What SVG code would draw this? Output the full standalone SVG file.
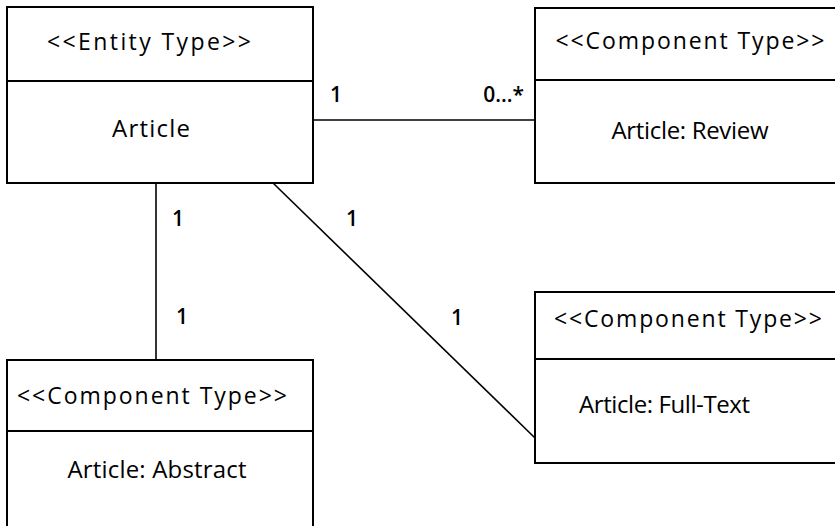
<svg xmlns="http://www.w3.org/2000/svg" width="835" height="526" viewBox="0 0 835 526">
  <style>
    .box { fill: #ffffff; stroke: #000000; stroke-width: 2; }
    .div { stroke: #000000; stroke-width: 2; }
    .conn { fill: none; stroke: #000000; stroke-width: 1.6; }
    .st { font-family: "Open Sans", "Liberation Sans", sans-serif; font-size: 23px; fill: #000000; }
    .nm { font-family: "Open Sans", "Liberation Sans", sans-serif; font-size: 24px; fill: #000000; }
    .mul { font-family: "Open Sans", "Liberation Sans", sans-serif; font-size: 21px; font-weight: 600; fill: #000000; }
  </style>
  <rect width="835" height="526" fill="#ffffff"/>

  <!-- associations -->
  <g id="connectors">
    <line class="conn" x1="313" y1="120" x2="535" y2="120"/>
    <line class="conn" x1="156" y1="183" x2="156" y2="360"/>
    <line class="conn" x1="273" y1="183" x2="535" y2="438"/>
    <text class="mul" x="336" y="102" text-anchor="middle">1</text>
    <text class="mul" x="524" y="102" text-anchor="end">0...*</text>
    <text class="mul" x="178" y="226" text-anchor="middle">1</text>
    <text class="mul" x="182" y="324" text-anchor="middle">1</text>
    <text class="mul" x="352" y="226" text-anchor="middle">1</text>
    <text class="mul" x="457" y="325" text-anchor="middle">1</text>
  </g>

  <!-- Article entity -->
  <g id="article">
    <rect class="box" x="7" y="7" width="306" height="176"/>
    <line class="div" x1="7" y1="81" x2="313" y2="81"/>
    <text class="st" x="149" y="50" text-anchor="middle" textLength="204" lengthAdjust="spacing">&lt;&lt;Entity Type&gt;&gt;</text>
    <text class="nm" x="151" y="137" text-anchor="middle" textLength="78" lengthAdjust="spacing">Article</text>
  </g>

  <!-- Review component -->
  <g id="review">
    <rect class="box" x="535" y="8" width="310" height="175"/>
    <line class="div" x1="535" y1="80" x2="845" y2="80"/>
    <text class="st" x="690" y="49" text-anchor="middle" textLength="269" lengthAdjust="spacing">&lt;&lt;Component Type&gt;&gt;</text>
    <text class="nm" x="690" y="139" text-anchor="middle" textLength="157" lengthAdjust="spacing">Article: Review</text>
  </g>

  <!-- Abstract component -->
  <g id="abstract">
    <rect class="box" x="7" y="360" width="306" height="180"/>
    <line class="div" x1="7" y1="431" x2="313" y2="431"/>
    <text class="st" x="152" y="404" text-anchor="middle" textLength="270" lengthAdjust="spacing">&lt;&lt;Component Type&gt;&gt;</text>
    <text class="nm" x="157" y="478" text-anchor="middle" textLength="179" lengthAdjust="spacing">Article: Abstract</text>
  </g>

  <!-- Full-text component -->
  <g id="fulltext">
    <rect class="box" x="535" y="292" width="310" height="171"/>
    <line class="div" x1="535" y1="359" x2="845" y2="359"/>
    <text class="st" x="688" y="327" text-anchor="middle" textLength="268" lengthAdjust="spacing">&lt;&lt;Component Type&gt;&gt;</text>
    <text class="nm" x="579" y="413" textLength="171" lengthAdjust="spacing">Article: Full-Text</text>
  </g>
</svg>
